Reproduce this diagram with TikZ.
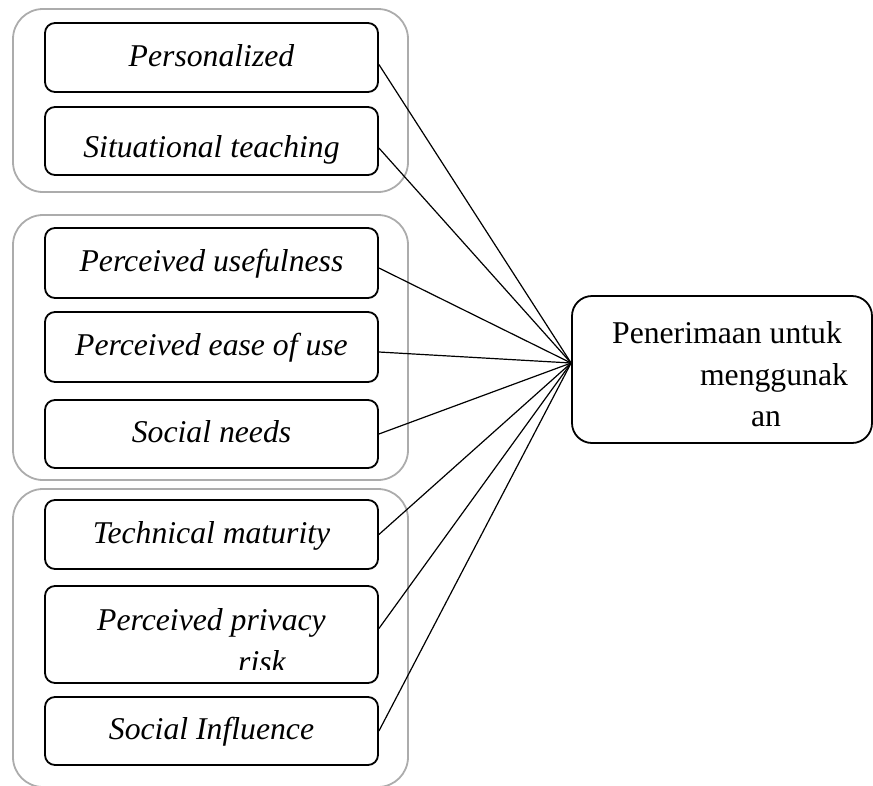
\documentclass[tikz,border=0pt]{standalone}
\usepackage{fontspec}
\setmainfont{Liberation Serif}
\usepackage{tikz}

\begin{document}
\begin{tikzpicture}
 [x=1pt, y=-1pt,
  factor node/.style={rectangle, rounded corners=10pt, draw, line width=1.8pt, minimum width=333pt, inner sep=4pt, font=\fontsize{31.7}{41}\selectfont\itshape, text height=24pt, text depth=7pt},
  goal node/.style={rectangle, rounded corners=20pt, draw, line width=1.8pt, minimum width=300pt, minimum height=147pt, inner sep=4pt, align=center, font=\fontsize{31.7}{41.5}\selectfont},
  group box/.style={draw=gray!65, line width=1.8pt, rounded corners=30pt},
  link/.style={line width=1.2pt}]

\useasboundingbox (0,0) rectangle (873,785);

% the three groups
\draw[group box] (13,9) rectangle (408,192);
\draw[group box] (13,215) rectangle (408,480);
\draw[group box] (13,489) rectangle (408,787);

\node[factor node, minimum height=69pt] (pers) at (211.5,57.5) {Personalized};
\node[factor node, minimum height=68pt, text height=39pt] (sit) at (211.5,141) {Situational teaching};

\node[factor node, minimum height=70pt] (useful) at (211.5,263) {Perceived usefulness};
\node[factor node, minimum height=70pt] (ease) at (211.5,347) {Perceived ease of use};
\node[factor node, minimum height=68pt] (needs) at (211.5,434) {Social needs};

\node[factor node, minimum height=69pt] (tech) at (211.5,534.5) {Technical maturity};
\node[factor node, minimum height=97pt, text height=22pt, text depth=31pt] (privacy) at (211.5,634.5) {Perceived privacy};
\begin{scope}
  \clip (45,600) rectangle (378,669);
  \node[font=\fontsize{31.7}{41}\selectfont\itshape, inner sep=0pt, anchor=base] (risk) at (262,672) {risk};
\end{scope}
\node[factor node, minimum height=68pt] (influence) at (211.5,731) {Social Influence};

\node[goal node] (goal) at (722,369.5) {\rule{0pt}{32pt}\hspace*{10pt}Penerimaan untuk\\\hspace*{104pt}menggunak\\\hspace*{88pt}an};
\coordinate (hub) at ([yshift=6.5pt]goal.west);

\path
  ([yshift=-7pt]pers.east) edge [link] (hub)
  ([yshift=-7pt]sit.east) edge [link] (hub)
  ([yshift=-5pt]useful.east) edge [link] (hub)
  ([yshift=-5pt]ease.east) edge [link] (hub)
  (needs.east) edge [link] (hub)
  (tech.east) edge [link] (hub)
  ([yshift=6pt]privacy.east) edge [link] (hub)
  (influence.east) edge [link] (hub);

\end{tikzpicture}
\end{document}
